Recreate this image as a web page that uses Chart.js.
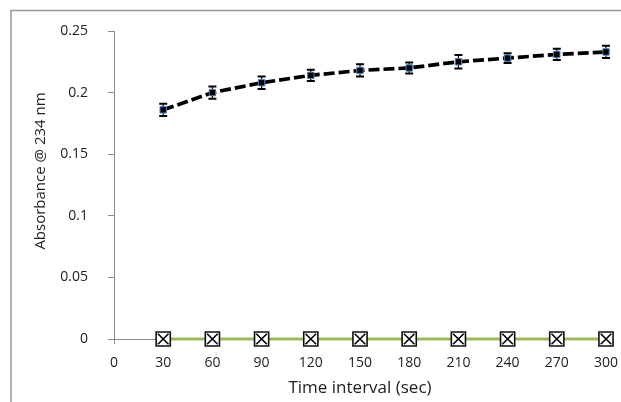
<!DOCTYPE html>
<html>
<head>
<meta charset="utf-8">
<script src="https://cdn.jsdelivr.net/npm/chart.js@4"></script>
<style>
    body { margin: 0; background: #fff; }
    #wrap { width: 621px; height: 402px; position: relative; }
</style>
</head>
<body>
<div id="wrap"><canvas id="myChart"></canvas></div>
<script>
const canvasChart = document.getElementById('myChart');

// valores
const tempos = [30, 60, 90, 120, 150, 180, 210, 240, 270, 300];
const absorbancia = [0.186, 0.200, 0.208, 0.214, 0.218, 0.220, 0.225, 0.228, 0.231, 0.233];
const erros = [0.005, 0.005, 0.005, 0.0045, 0.005, 0.0045, 0.0055, 0.004, 0.0045, 0.005];
const controle = [0, 0, 0, 0, 0, 0, 0, 0, 0, 0];

const fonte = "'Open Sans', 'Noto Sans', sans-serif";
const cinza = '#8c8c8c';

const pontos = (ys) => tempos.map((t, i) => ({ x: t, y: ys[i] }));

// moldura (só topo e esquerda aparecem no recorte)
const moldura = {
    id: 'moldura',
    beforeDraw(chart) {
        const ctx = chart.ctx;
        ctx.save();
        ctx.strokeStyle = '#999';
        ctx.lineWidth = 1.5;
        ctx.beginPath();
        ctx.moveTo(11, 402);
        ctx.lineTo(11, 10.5);
        ctx.lineTo(621, 10.5);
        ctx.stroke();
        ctx.restore();
    }
};

// barras de erro da série principal
const barrasErro = {
    id: 'barrasErro',
    beforeDatasetsDraw(chart) {
        const ctx = chart.ctx;
        const sx = chart.scales.x, sy = chart.scales.y;
        ctx.save();
        ctx.strokeStyle = '#000';
        tempos.forEach((t, i) => {
            const x = sx.getPixelForValue(t);
            const y1 = sy.getPixelForValue(absorbancia[i] + erros[i]);
            const y2 = sy.getPixelForValue(absorbancia[i] - erros[i]);
            ctx.lineWidth = 1.2;
            ctx.beginPath();
            ctx.moveTo(x, y1);
            ctx.lineTo(x, y2);
            ctx.stroke();
            ctx.lineWidth = 2;
            ctx.beginPath();
            ctx.moveTo(x - 4, y1);
            ctx.lineTo(x + 4, y1);
            ctx.moveTo(x - 4, y2);
            ctx.lineTo(x + 4, y2);
            ctx.stroke();
        });
        ctx.restore();
    }
};

// título do eixo y, um pouco acima do centro como no original
const tituloY = {
    id: 'tituloY',
    afterDraw(chart) {
        const ctx = chart.ctx;
        ctx.save();
        ctx.translate(41, 171);
        ctx.rotate(-Math.PI / 2);
        ctx.font = "15px " + fonte;
        ctx.fillStyle = '#222';
        ctx.textAlign = 'center';
        ctx.textBaseline = 'middle';
        ctx.fillText('Absorbance @ 234 nm', 0, 0);
        ctx.restore();
    }
};

window.myChart = new Chart(canvasChart, {
    type: 'line',
    data: {
        datasets: [
            {
                label: 'Absorbance',
                data: pontos(absorbancia),
                borderColor: '#000',
                borderWidth: 3.7,
                borderDash: [11, 4],
                pointStyle: 'rect',
                pointRadius: 4.5,
                pointBackgroundColor: '#000',
                pointBorderColor: '#4F81BD',
                pointBorderWidth: 1,
                clip: false,
                order: 0
            },
            {
                label: 'Control X',
                data: pontos(controle),
                showLine: false,
                pointStyle: 'crossRot',
                pointRadius: 7.5,
                pointBorderColor: '#000',
                pointBorderWidth: 1.6,
                clip: false,
                order: 1
            },
            {
                label: 'Control',
                data: pontos(controle),
                borderColor: '#9BBB59',
                borderWidth: 3,
                pointStyle: 'rect',
                pointRadius: 10,
                pointBackgroundColor: '#fff',
                pointBorderColor: '#111',
                pointBorderWidth: 1.6,
                clip: false,
                order: 2
            }
        ]
    },
    options: {
        responsive: true,
        maintainAspectRatio: false,
        animation: false,
        layout: { padding: { left: 0, top: 31, right: 15, bottom: 0 } },
        plugins: {
            legend: { display: false },
            tooltip: { enabled: false }
        },
        scales: {
            x: {
                type: 'linear',
                min: 0,
                max: 300,
                afterFit: (s) => { s.height = 63; s.paddingLeft = 0; s.paddingRight = 0; },
                ticks: {
                    stepSize: 30,
                    color: '#222',
                    font: { family: fonte, size: 14 },
                    padding: 11,
                    maxRotation: 0
                },
                grid: { drawOnChartArea: false, tickLength: 5, color: cinza },
                border: { color: cinza, width: 1 },
                title: {
                    display: true,
                    text: 'Time interval (sec)',
                    color: '#222',
                    font: { family: fonte, size: 17 },
                    padding: { top: 4, bottom: 4 }
                }
            },
            y: {
                min: 0,
                max: 0.25,
                afterFit: (s) => { s.width = 114; s.paddingTop = 0; s.paddingBottom = 0; },
                ticks: {
                    stepSize: 0.05,
                    color: '#222',
                    font: { family: fonte, size: 14 },
                    padding: 20,
                    callback: (v) => String(+v.toFixed(2))
                },
                grid: { drawOnChartArea: false, tickLength: 6, color: cinza },
                border: { color: cinza, width: 1 }
            }
        }
    },
    plugins: [moldura, barrasErro, tituloY]
});
</script>
</body>
</html>
